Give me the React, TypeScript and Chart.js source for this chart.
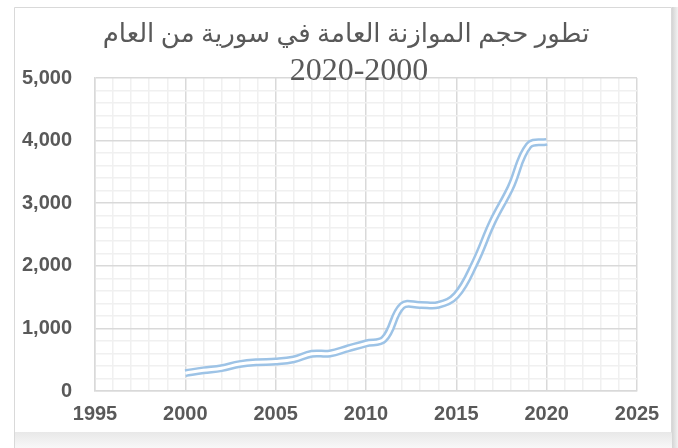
import React, { useEffect, useRef } from "react";
import { Chart, registerables } from "chart.js";
Chart.register(...registerables);

const TITLE_LINE1 = "تطور حجم الموازنة العامة في سورية من العام";
const TITLE_LINE2 = "2020-2000";

const years = [2000, 2001, 2002, 2003, 2004, 2005, 2006, 2007, 2008, 2009, 2010, 2011, 2012, 2013, 2014, 2015, 2016, 2017, 2018, 2019, 2020];
const budget = [285, 330, 365, 430, 460, 470, 505, 595, 600, 680, 760, 830, 1360, 1375, 1375, 1530, 2030, 2700, 3250, 3920, 3980];

const X_MIN = 1995;
const X_MAX = 2025;
const X_MAJOR = 5;
const X_MINOR = 1;
const Y_MIN = 0;
const Y_MAX = 5000;
const Y_MAJOR = 1000;
const Y_MINOR = 200;

const TEXT = "#595959";
const MAJOR_GRID = "#d9d9d9";
const MINOR_GRID = "#f0f0f0";
const LINE_BLUE = "#9DC3E6";

const framePlugin = {
  id: "frame",
  beforeDraw(chart: any) {
    const ctx = chart.ctx;
    const W = chart.width;
    const H = chart.height;
    ctx.save();
    ctx.fillStyle = "#ffffff";
    ctx.fillRect(0, 0, W, H);
    const gb = ctx.createLinearGradient(0, 432, 0, H);
    gb.addColorStop(0, "#e8e8e8");
    gb.addColorStop(1, "#f8f8f8");
    ctx.fillStyle = gb;
    ctx.fillRect(14, 432, 658, H - 432);
    const gr = ctx.createLinearGradient(672, 0, W, 0);
    gr.addColorStop(0, "#d4d4d4");
    gr.addColorStop(1, "#f2f2f2");
    ctx.fillStyle = gr;
    ctx.fillRect(672, 7, W - 672, H - 7);
    ctx.strokeStyle = "#d9d9d9";
    ctx.lineWidth = 1;
    ctx.beginPath();
    ctx.moveTo(14.5, H);
    ctx.lineTo(14.5, 7.5);
    ctx.lineTo(671.5, 7.5);
    ctx.lineTo(671.5, 432.5);
    ctx.stroke();
    ctx.restore();
  },
  afterDraw(chart: any) {
    const ctx = chart.ctx;
    ctx.save();
    ctx.fillStyle = TEXT;
    ctx.textAlign = "center";
    ctx.textBaseline = "alphabetic";
    ctx.direction = "rtl";
    let size = 32;
    ctx.font = `${size}px "Liberation Serif", "DejaVu Sans", serif`;
    const w = ctx.measureText(TITLE_LINE1).width;
    if (w > 492) {
      size = Math.floor((size * 492) / w);
      ctx.font = `${size}px "Liberation Serif", "DejaVu Sans", serif`;
    }
    ctx.fillText(TITLE_LINE1, 346, 42);
    ctx.direction = "ltr";
    ctx.font = `32px "Liberation Serif", serif`;
    ctx.fillText(TITLE_LINE2, 359, 80);
    ctx.restore();
  },
};

export default function App() {
  const ref = useRef<HTMLCanvasElement | null>(null);
  useEffect(() => {
    if (!ref.current) return;
    const pts = years.map((x, i) => ({ x, y: budget[i] }));
    const tickFont = { family: "'Liberation Sans', Arial, sans-serif", size: 20, weight: "bold" as const };
    const chart = new Chart(ref.current, {
      type: "scatter",
      data: {
        datasets: [
          {
            data: pts,
            showLine: true,
            borderColor: "#ffffff",
            borderWidth: 3,
            pointRadius: 0,
            tension: 0.4,
            order: 0,
          },
          {
            data: pts,
            showLine: true,
            borderColor: LINE_BLUE,
            borderWidth: 8,
            pointRadius: 0,
            tension: 0.4,
            order: 1,
          },
        ],
      },
      options: {
        responsive: false,
        animation: false,
        layout: { padding: { top: 78, right: 41, left: 0, bottom: 0 } },
        plugins: { legend: { display: false }, tooltip: { enabled: false }, title: { display: false } },
        scales: {
          x: {
            type: "linear",
            min: X_MIN,
            max: X_MAX,
            afterFit: (s: any) => {
              s.height = 57;
            },
            ticks: {
              stepSize: X_MINOR,
              autoSkip: false,
              maxRotation: 0,
              padding: 11,
              color: TEXT,
              font: tickFont,
              callback: (v: any) => (Number(v) % X_MAJOR === 0 ? String(v) : ""),
            },
            grid: {
              drawTicks: false,
              lineWidth: 1.5,
              color: (c: any) => (c.tick && c.tick.value % X_MAJOR === 0 ? MAJOR_GRID : MINOR_GRID),
            },
            border: { display: true, color: MAJOR_GRID, width: 1.5 },
          },
          y: {
            type: "linear",
            min: Y_MIN,
            max: Y_MAX,
            afterFit: (s: any) => {
              s.width = 95;
            },
            ticks: {
              stepSize: Y_MINOR,
              autoSkip: false,
              padding: 23,
              color: TEXT,
              font: tickFont,
              callback: (v: any) => (Number(v) % Y_MAJOR === 0 ? Number(v).toLocaleString("en-US") : ""),
            },
            grid: {
              drawTicks: false,
              lineWidth: 1.5,
              color: (c: any) => (c.tick && c.tick.value % Y_MAJOR === 0 ? MAJOR_GRID : MINOR_GRID),
            },
            border: { display: true, color: MAJOR_GRID, width: 1.5 },
          },
        },
      },
      plugins: [framePlugin],
    });
    return () => chart.destroy();
  }, []);
  return (
    <div style={{ position: "absolute", left: 0, top: 0, width: 678, height: 448 }}>
      <canvas ref={ref} width={678} height={448} />
    </div>
  );
}
